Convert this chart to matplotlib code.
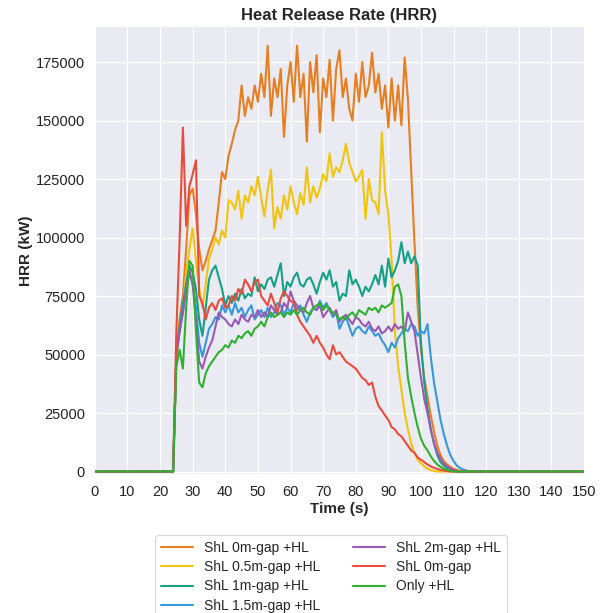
"""
HRR curves for the shelter-gap fire scenarios
"""

import numpy as np
import matplotlib
matplotlib.use("Agg")
import matplotlib.pyplot as plt

# time axis, 1 s steps
time_s = np.arange(0, 151)

# values, in kW, starting at t = 25 s (zero elsewhere)
START = 25
hrr_0m_hl = [50000, 65000, 75000, 95000, 118000, 121000, 110000, 95000, 86000, 90000,
             95000, 99000, 103000, 115000, 128000, 125000, 135000, 140000, 146000, 150000,
             165000, 152000, 160000, 155000, 165000, 158000, 170000, 160000, 182000, 152000,
             168000, 160000, 172000, 143000, 165000, 175000, 158000, 182000, 160000, 170000,
             141000, 175000, 162000, 178000, 145000, 168000, 160000, 176000, 150000, 172000,
             180000, 160000, 168000, 155000, 150000, 170000, 158000, 175000, 160000, 165000,
             179000, 162000, 170000, 155000, 165000, 147000, 168000, 150000, 165000, 148000,
             177000, 159000, 128000, 98000, 70000, 52000, 40000, 32000, 24000, 17000,
             11000, 7000, 4500, 3000, 2000, 1200, 700, 300]
hrr_05m_hl = [48000, 60000, 70000, 85000, 95000, 104000, 90000, 78000, 70000, 80000,
              91000, 95000, 100000, 97000, 103000, 100000, 116000, 115000, 112000, 120000,
              108000, 118000, 115000, 122000, 118000, 126000, 117000, 109000, 120000, 129000,
              104000, 113000, 108000, 118000, 112000, 122000, 115000, 110000, 119000, 114000,
              130000, 115000, 122000, 117000, 121000, 127000, 124000, 136000, 126000, 130000,
              128000, 133000, 140000, 132000, 128000, 124000, 126000, 129000, 108000, 125000,
              116000, 115000, 110000, 145000, 120000, 110000, 90000, 60000, 45000, 35000,
              25000, 18000, 12000, 8000, 5000, 3500, 2200, 1200, 600, 200]
hrr_1m_hl = [50000, 62000, 72000, 80000, 88000, 85000, 78000, 65000, 58000, 70000,
             82000, 86000, 88000, 83000, 78000, 71000, 75000, 72000, 76000, 73000,
             78000, 74000, 76000, 75000, 83000, 77000, 80000, 78000, 82000, 83000,
             79000, 84000, 89000, 75000, 81000, 79000, 83000, 85000, 80000, 79000,
             82000, 83000, 80000, 76000, 81000, 85000, 82000, 86000, 79000, 81000,
             73000, 76000, 75000, 86000, 80000, 82000, 79000, 75000, 79000, 77000,
             80000, 84000, 80000, 88000, 79000, 91000, 83000, 86000, 90000, 98000,
             89000, 94000, 89000, 92000, 88000, 55000, 38000, 27000, 18000, 12000,
             7000, 4000, 2500, 1500, 900, 400]
hrr_15m_hl = [50000, 60000, 68000, 78000, 85000, 80000, 70000, 55000, 49000, 55000,
              61000, 63000, 66000, 65000, 71000, 68000, 71000, 67000, 72000, 68000,
              70000, 66000, 69000, 71000, 65000, 67000, 69000, 66000, 70000, 66000,
              68000, 72000, 71000, 67000, 70000, 68000, 72000, 69000, 71000, 67000,
              64000, 68000, 70000, 69000, 73000, 70000, 72000, 69000, 66000, 68000,
              61000, 64000, 66000, 62000, 58000, 61000, 62000, 60000, 59000, 62000,
              60000, 58000, 59000, 56000, 54000, 51000, 55000, 53000, 57000, 59000,
              61000, 60000, 63000, 62000, 58000, 60000, 59000, 63000, 49000, 38000,
              30000, 22000, 16000, 11000, 7000, 4500, 2500, 1500, 800, 400]
hrr_2m_hl = [50000, 60000, 68000, 78000, 86000, 80000, 65000, 47000, 44000, 49000,
             53000, 56000, 62000, 68000, 66000, 65000, 63000, 62000, 65000, 63000,
             67000, 65000, 64000, 67000, 66000, 69000, 66000, 68000, 66000, 71000,
             69000, 67000, 68000, 72000, 70000, 77000, 73000, 71000, 69000, 68000,
             72000, 75000, 70000, 69000, 71000, 66000, 68000, 70000, 67000, 69000,
             64000, 66000, 67000, 65000, 63000, 66000, 65000, 63000, 62000, 64000,
             61000, 60000, 62000, 59000, 60000, 62000, 60000, 63000, 61000, 62000,
             60000, 68000, 64000, 60000, 50000, 40000, 31000, 25000, 18000, 12000,
             8000, 5500, 3500, 2200, 1300, 700, 300]
hrr_0m = [60000, 99000, 147000, 105000, 122000, 127000, 133000, 75000, 72000, 65000,
          70000, 72000, 69000, 73000, 74000, 70000, 71000, 75000, 73000, 78000,
          76000, 82000, 80000, 77000, 81000, 82000, 75000, 73000, 71000, 76000,
          72000, 68000, 74000, 77000, 75000, 73000, 72000, 67000, 64000, 62000,
          60000, 58000, 55000, 58000, 55000, 53000, 50000, 48000, 54000, 50000,
          51000, 49000, 47000, 46000, 45000, 44000, 42000, 40000, 39000, 37000,
          38000, 32000, 28000, 26000, 24000, 22000, 19000, 18000, 16000, 15000,
          13000, 11000, 9000, 8000, 6000, 5000, 4000, 3000, 2200, 1600,
          1100, 700, 400, 200]
hrr_only_hl = [45000, 52000, 44000, 70000, 90000, 88000, 60000, 38000, 36000, 42000,
               45000, 47000, 49000, 51000, 52000, 54000, 53000, 56000, 55000, 58000,
               57000, 59000, 60000, 58000, 61000, 62000, 64000, 62000, 66000, 68000,
               66000, 67000, 68000, 66000, 68000, 67000, 69000, 67000, 69000, 70000,
               68000, 67000, 70000, 71000, 72000, 69000, 71000, 69000, 68000, 67000,
               65000, 66000, 65000, 67000, 68000, 66000, 69000, 68000, 67000, 70000,
               69000, 70000, 68000, 71000, 70000, 71000, 72000, 79000, 80000, 75000,
               55000, 40000, 32000, 25000, 19000, 14000, 11000, 9000, 6500, 4500,
               3000, 2000, 1200, 700, 300]

LABELS = ["ShL 0m-gap +HL", "ShL 0.5m-gap +HL", "ShL 1m-gap +HL", "ShL 1.5m-gap +HL",
          "ShL 2m-gap +HL", "ShL 0m-gap", "Only +HL"]
COLORS = ["#e67e22", "#f1c40f", "#16a085", "#3498db", "#9b59b6", "#e74c3c", "#30b030"]


def full_series(vals, start=START):
    out = np.zeros(len(time_s))
    out[start:start + len(vals)] = vals
    return out


def main():
    plt.style.use("seaborn-v0_8-darkgrid")
    plt.rcParams["font.family"] = ["Liberation Sans", "DejaVu Sans"]

    fig = plt.figure(figsize=(6.04, 6.13), dpi=100)
    ax = fig.add_axes([0.157, 0.227, 0.81, 0.729])

    series = [hrr_0m_hl, hrr_05m_hl, hrr_1m_hl, hrr_15m_hl, hrr_2m_hl, hrr_0m, hrr_only_hl]
    for vals, lab, col in zip(series, LABELS, COLORS):
        ax.plot(time_s, full_series(vals), color=col, lw=1.5, label=lab)

    ax.set_xlim(0, 150)
    ax.set_ylim(-1000, 190000)
    ax.set_xticks(np.arange(0, 151, 10))
    ax.set_yticks(np.arange(0, 175001, 25000))
    ax.tick_params(labelsize=10.5, colors="#222222")
    ax.tick_params(axis="x", pad=8)
    ax.tick_params(axis="y", pad=7)
    ax.set_title("Heat Release Rate (HRR)", fontsize=12, fontweight="bold", pad=5)
    ax.set_xlabel("Time (s)", fontsize=11, fontweight="bold", labelpad=2)
    ax.set_ylabel("HRR (kW)", fontsize=11, fontweight="bold", labelpad=2)

    leg = fig.legend(loc="upper left", bbox_to_anchor=(155 / 604, 1 - 535 / 613), ncol=2,
                     fontsize=10, frameon=True, facecolor="white", edgecolor="#cccccc",
                     borderaxespad=0, columnspacing=2.4, handlelength=2.3,
                     labelspacing=0.39)
    leg.get_frame().set_linewidth(0.8)

    fig.savefig("out.png", dpi=100)
    plt.close(fig)


if __name__ == "__main__":
    main()
